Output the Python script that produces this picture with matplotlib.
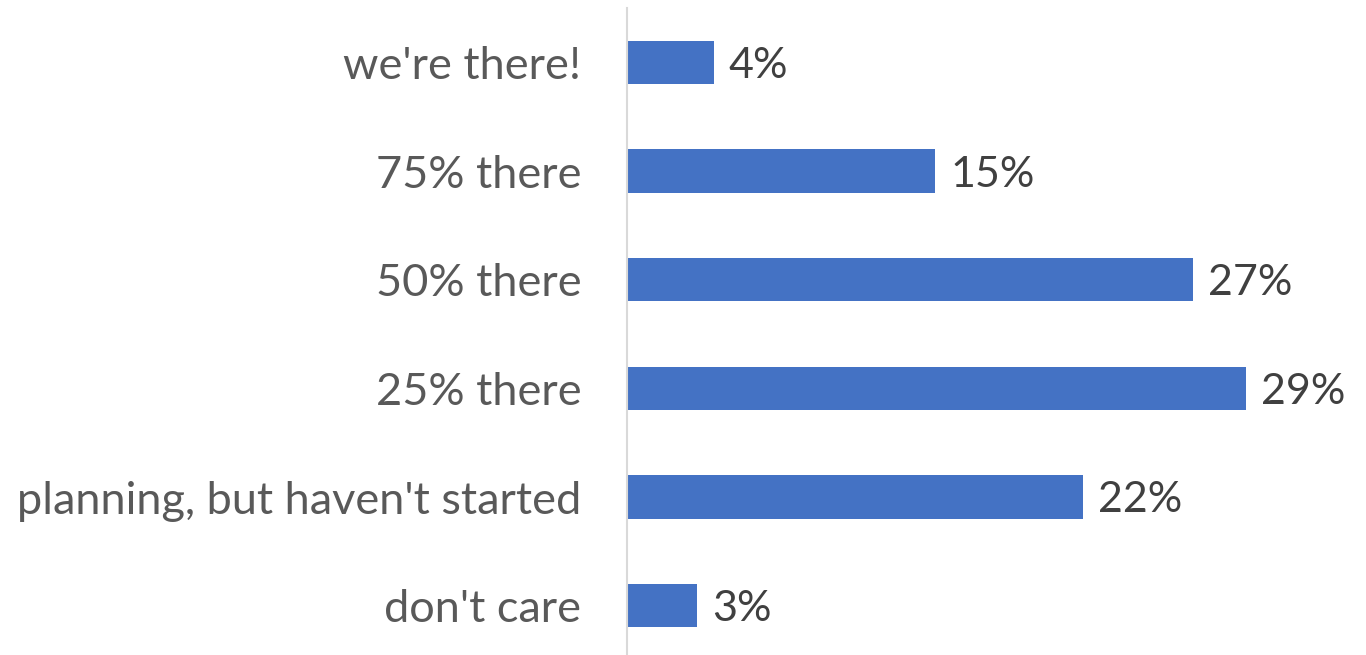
import matplotlib.pyplot as plt

# Survey answers (bottom to top as drawn)
categories = ["don't care", "planning, but haven't started", "25% there",
              "50% there", "75% there", "we're there!"]
shares = [3.3, 21.6, 29.3, 26.8, 14.6, 4.1]
share_labels = ["3%", "22%", "29%", "27%", "15%", "4%"]

plt.rcParams['font.family'] = ['Lato', 'DejaVu Sans']

fig = plt.figure(figsize=(13.66, 6.55), dpi=100)
ax = fig.add_axes([627 / 1366, -5 / 655, 739 / 1366, 652 / 655])

y = range(len(categories))
bars = ax.barh(y, shares, height=0.4, color="#4472C4")

# Value labels to the right of each bar
for bar, text in zip(bars, share_labels):
    ax.annotate(text, (bar.get_width(), bar.get_y() + bar.get_height() / 2),
                xytext=(11, 0), textcoords="offset points",
                va="center_baseline", ha="left", fontsize=31, color="#404040")

ax.set_xlim(0, 35)
ax.set_ylim(-0.5, 5.5)
ax.set_yticks(list(y))
ax.set_yticklabels(categories, fontsize=32.5, color="#595959")
ax.tick_params(axis="y", length=0, pad=33)
ax.set_xticks([])

for side in ["top", "right", "bottom"]:
    ax.spines[side].set_visible(False)
ax.spines["left"].set_color("#D9D9D9")
ax.spines["left"].set_linewidth(1.5)

fig.savefig("out.png", dpi=100)
